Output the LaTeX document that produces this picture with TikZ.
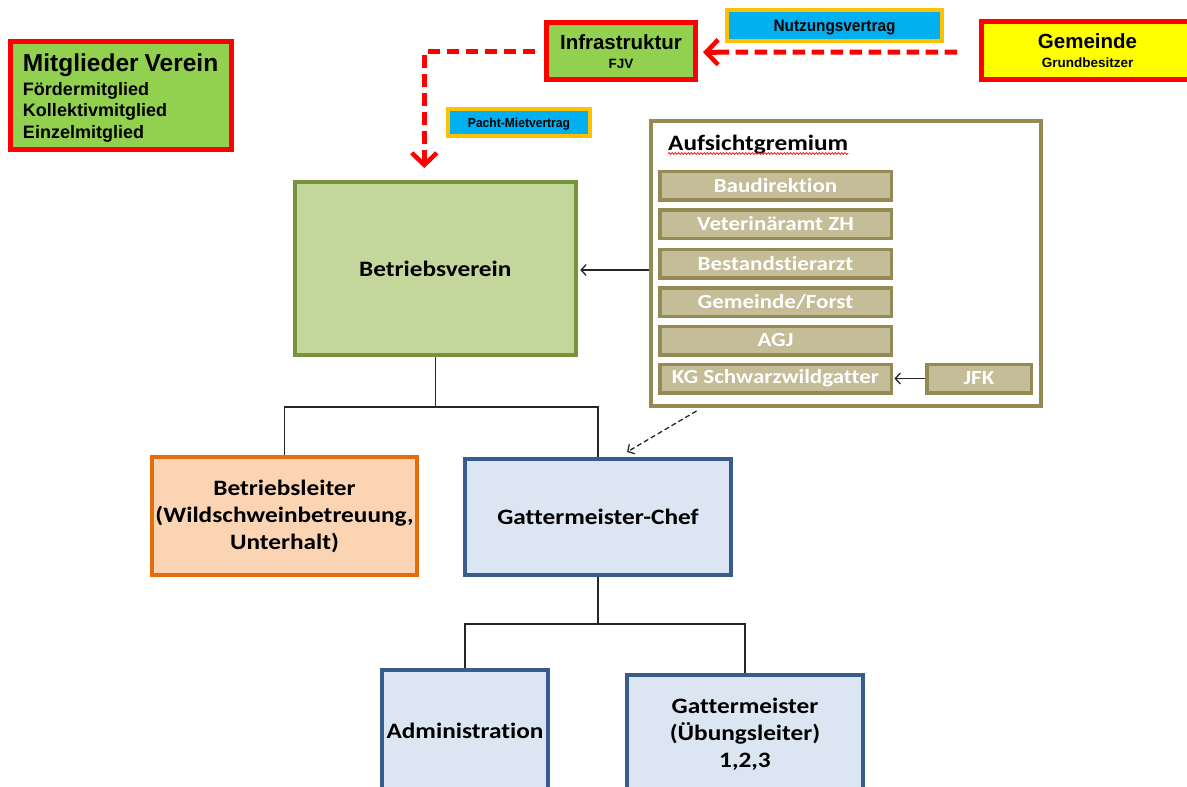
\documentclass[tikz,border=0pt]{standalone}
\usepackage{fontspec}
\setmainfont{Liberation Sans}
\newfontfamily\calfont{Carlito}[FakeStretch=1.15,Ligatures=NoCommon]
\newfontfamily\narrowfont{Liberation Sans}[FakeStretch=0.93]
\usetikzlibrary{arrows.meta,decorations.pathmorphing}
\definecolor{cGreen}{HTML}{92D050}
\definecolor{cLGreen}{HTML}{C3D69B}
\definecolor{cDGreen}{HTML}{77933C}
\definecolor{cOlive}{HTML}{948A54}
\definecolor{cTan}{HTML}{C4BD97}
\definecolor{cPeach}{HTML}{FBD4B4}
\definecolor{cOrange}{HTML}{E46C0A}
\definecolor{cLBlue}{HTML}{DCE6F2}
\definecolor{cDBlue}{HTML}{385D8A}
\definecolor{cCyan}{HTML}{00B0F0}
\definecolor{cGold}{HTML}{FFC000}
\definecolor{cRed}{HTML}{FF0000}
\definecolor{cYellow}{HTML}{FFFF00}
\begin{document}
\begin{tikzpicture}[x=1pt,y=-1pt,
  box/.style={draw,rectangle,inner sep=0pt,align=center},
  redbox/.style={box,draw=cRed,line width=5pt},
  lbl/.style={box,draw=cGold,fill=cCyan,line width=4pt,text depth=0pt},
  calbox/.style={box,line width=4pt,font=\calfont\bfseries\fontsize{22}{27}\selectfont},
  member/.style={box,draw=cOlive,fill=cTan,line width=3.5pt,text=white,
    minimum width=231.5pt,minimum height=28.5pt,font=\calfont\bfseries\fontsize{20}{22}\selectfont},
  conn/.style={draw=black!85,line width=1.3pt},
  barb/.style={-{Straight Barb[length=5pt,width=11pt]}},
  reddash/.style={draw=cRed,line width=5pt,dash pattern=on 12.5pt off 6.5pt},
  redtip/.style={-{Straight Barb[length=12pt,width=25pt,line width=4.5pt]}}
]
\useasboundingbox (0,0) rectangle (1187,787);
\clip (0,0) rectangle (1187,787);

% top row
\node[redbox,fill=cGreen,minimum width=221pt,minimum height=108pt,text width=196pt,align=left,
  font=\bfseries\fontsize{18}{21.5}\selectfont] (mit) at (121,95.5)
  {{\fontsize{24.5}{24}\selectfont\rule{0pt}{22pt}Mitglieder Verein}\\[2.5pt]Fördermitglied\\Kollektivmitglied\\Einzelmitglied};
\node[redbox,fill=cGreen,minimum width=149pt,minimum height=57.5pt,
  font=\bfseries\fontsize{20.5}{19}\selectfont] (infra) at (621,51.2)
  {Infrastruktur\\{\fontsize{13.5}{15}\selectfont FJV}};
\node[redbox,fill=cYellow,minimum width=227pt,minimum height=57.5pt,
  font=\bfseries\fontsize{20.5}{19}\selectfont] (gem) at (1095,50.5)
  {Gemeinde\hspace*{15pt}\\{\fontsize{13.5}{15}\selectfont Grundbesitzer\hspace*{15pt}}};
\node[lbl,minimum width=215pt,minimum height=31pt,font=\narrowfont\bfseries\fontsize{16.5}{18}\selectfont] (nutz) at (834.5,25.5) {Nutzungsvertrag};
\node[lbl,minimum width=142pt,minimum height=27pt,font=\narrowfont\bfseries\fontsize{13}{15}\selectfont] (pacht) at (519,122.5) {Pacht-Mietvertrag};

% Betriebsverein
\node[calbox,draw=cDGreen,fill=cLGreen,minimum width=281pt,minimum height=173pt] (bv) at (435.3,268.5) {Betriebsverein};

% Aufsichtgremium
\node[box,draw=cOlive,fill=white,line width=4pt,minimum width=390pt,minimum height=285pt] (auf) at (846,263.5) {};
\node[anchor=base west,inner sep=0pt,font=\calfont\bfseries\fontsize{22}{24}\selectfont] (auftitle) at (668,150) {Aufsichtgremium};
\draw[cRed,line width=0.7pt,decorate,decoration={snake,amplitude=0.9pt,segment length=3.2pt}]
  ([yshift=-3.5pt]auftitle.base west) -- ([yshift=-3.5pt]auftitle.base east);
\node[member] (bau) at (775.5,185.5) {Baudirektion};
\node[member] (vet) at (775.5,224) {Veterinäramt ZH};
\node[member] (best) at (775.5,263.5) {Bestandstierarzt};
\node[member] (forst) at (775.5,302) {Gemeinde/Forst};
\node[member] (agj) at (775.5,340.5) {AGJ};
\node[member] (kg) at (775.5,378.5) {KG Schwarzwildgatter};
\node[member,minimum width=104.5pt] (jfk) at (979,378.5) {JFK};

% lower boxes
\node[calbox,draw=cOrange,fill=cPeach,minimum width=265pt,minimum height=118pt] (bl) at (284.5,516)
  {Betriebsleiter\\(Wildschweinbetreuung,\\Unterhalt)};
\node[calbox,draw=cDBlue,fill=cLBlue,minimum width=266pt,minimum height=116pt] (gc) at (598,517) {Gattermeister-Chef};
\node[calbox,draw=cDBlue,fill=cLBlue,minimum width=166pt,minimum height=122pt] (adm) at (465,731) {Administration};
\node[calbox,draw=cDBlue,fill=cLBlue,minimum width=236pt,minimum height=118pt] (gm) at (745,734)
  {Gattermeister\\(Übungsleiter)\\1,2,3};

% red dashed connectors
\coordinate (gtip) at ([xshift=5pt,yshift=-1pt]infra.east);
\coordinate (btip) at ([xshift=-11pt,yshift=12pt]bv.north);
\draw[reddash] ([xshift=-22pt,yshift=-1.5pt]gem.west) -- ([xshift=3pt]gtip);
\draw[reddash] ([xshift=-9pt,yshift=-0.5pt]infra.west) -| ([yshift=3pt]btip);
\draw[draw=cRed,line width=5pt,redtip] ([xshift=14pt]gtip) -- (gtip);
\draw[draw=cRed,line width=5pt,redtip] ([yshift=14pt]btip) -- (btip);

% black connectors
\draw[conn,barb] ([yshift=-6.5pt]auf.west) -- ([yshift=-6.5pt,xshift=2.5pt]auf.west -| bv.east);
\draw[conn,barb] (jfk.west) -- ([xshift=1.5pt]kg.east);
\draw[conn,barb,dash pattern=on 5pt off 3pt] ([xshift=47.5pt,yshift=-3pt]auf.south west) -- ([xshift=29pt,yshift=5pt]gc.north);

\coordinate (j1) at ([yshift=-50pt]bv.south);
\draw[conn] (bv.south) -- (j1) -| (bl.north);
\draw[conn] (j1) -| (gc.north);
\coordinate (j2) at ([yshift=-47pt]gc.south);
\draw[conn] (gc.south) -- (j2) -| (adm.north);
\draw[conn] (j2) -| (gm.north);
\end{tikzpicture}
\end{document}
